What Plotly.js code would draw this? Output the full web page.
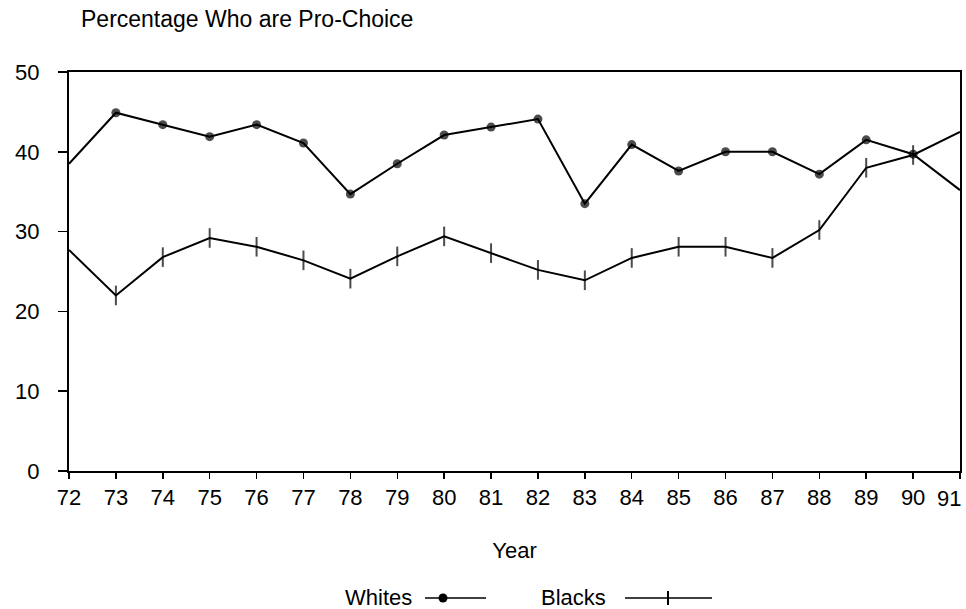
<!DOCTYPE html>
<html>
<head>
<meta charset="utf-8">
<script src="https://cdn.plot.ly/plotly-3.0.1.min.js"></script>
<style>html,body{margin:0;padding:0;background:#fff;}#chart{width:966px;height:609px;}</style>
</head>
<body>
<div id="chart"></div>
<script>
const years = [72,73,74,75,76,77,78,79,80,81,82,83,84,85,86,87,88,89,90,91];
const whites = [38.5,44.9,43.4,41.9,43.4,41.1,34.7,38.5,42.1,43.1,44.1,33.5,40.9,37.6,40.0,40.0,37.2,41.5,39.7,35.2];
const blacks = [27.7,22.0,26.8,29.2,28.1,26.4,24.1,26.9,29.4,27.3,25.2,23.9,26.7,28.1,28.1,26.7,30.2,38.0,39.6,42.5];
const tickLabels = years.map(String);
const yTicks = [0,10,20,30,40,50];

const n = years.length;
const endHide = (s) => Array.from({length: n}, (_, i) => (i === 0 || i === n - 1) ? 0 : s);
// last label is drawn right-aligned at the plot edge (as in the reference)
const shownLabels = tickLabels.map((t, i) => i === n - 1 ? '' : t);

const fam = 'Liberation Sans, Arial, sans-serif';
const F = (size) => ({family: fam, color: '#000', size: size});

const traces = [
  {x: years, y: whites, type: 'scatter', mode: 'lines+markers', name: 'Whites',
   line: {color: '#000', width: 2},
   marker: {symbol: 'circle', color: '#000', size: endHide(9), line: {width: 0}}},
  {x: years, y: blacks, type: 'scatter', mode: 'lines+markers', name: 'Blacks',
   line: {color: '#000', width: 2},
   marker: {symbol: 'line-ns', color: '#000', size: endHide(14), line: {color: '#000', width: 2}}}
];

const px = (x) => (x - 69) / 891;
const py = (y) => (471 - y) / 399;

const layout = {
  width: 966, height: 609,
  margin: {l: 69, r: 6, t: 72, b: 138},
  paper_bgcolor: '#fff', plot_bgcolor: '#fff',
  showlegend: false,
  font: F(22),
  title: {text: 'Percentage Who are Pro-Choice', x: 81 / 966, xanchor: 'left', y: 1 - 19 / 609, yanchor: 'middle',
          font: F(23)},
  xaxis: {range: [72, 91], tickvals: years, ticktext: shownLabels, showgrid: false, zeroline: false,
          showline: true, linecolor: '#000', linewidth: 2, mirror: true,
          ticks: 'outside', ticklen: 6, tickwidth: 1.5, tickcolor: '#000',
          tickfont: F(22),
          title: {text: 'Year', font: F(22), standoff: 33}},
  yaxis: {range: [0, 50], tickvals: yTicks, showgrid: false, zeroline: false,
          showline: true, linecolor: '#000', linewidth: 2, mirror: true,
          ticks: 'outside', ticklen: 9, tickwidth: 1.5, tickcolor: '#000',
          ticklabelstandoff: 14,
          tickfont: F(22)},
  annotations: [
    {xref: 'x', yref: 'paper', x: years[n - 1], y: py(498), text: tickLabels[n - 1], showarrow: false,
     xanchor: 'right', yanchor: 'middle', xshift: 3, font: F(22)},
    {xref: 'paper', yref: 'paper', x: px(414), y: py(597), text: 'Whites', showarrow: false,
     xanchor: 'right', yanchor: 'middle', font: F(22)},
    {xref: 'paper', yref: 'paper', x: px(608), y: py(597), text: 'Blacks', showarrow: false,
     xanchor: 'right', yanchor: 'middle', font: F(22)}
  ],
  shapes: [
    {type: 'line', xref: 'paper', yref: 'paper', x0: px(425), x1: px(486), y0: py(598), y1: py(598),
     line: {color: '#000', width: 1.5}},
    {type: 'circle', xref: 'paper', yref: 'paper', x0: px(438.5), x1: px(447.5), y0: py(593.5), y1: py(602.5),
     fillcolor: '#000', line: {color: '#000', width: 0}},
    {type: 'line', xref: 'paper', yref: 'paper', x0: px(625), x1: px(712), y0: py(598), y1: py(598),
     line: {color: '#000', width: 1.5}},
    {type: 'line', xref: 'paper', yref: 'paper', x0: px(668), x1: px(668), y0: py(591), y1: py(605),
     line: {color: '#000', width: 2}}
  ]
};

Plotly.newPlot('chart', traces, layout, {displayModeBar: false, staticPlot: true});
</script>
</body>
</html>
